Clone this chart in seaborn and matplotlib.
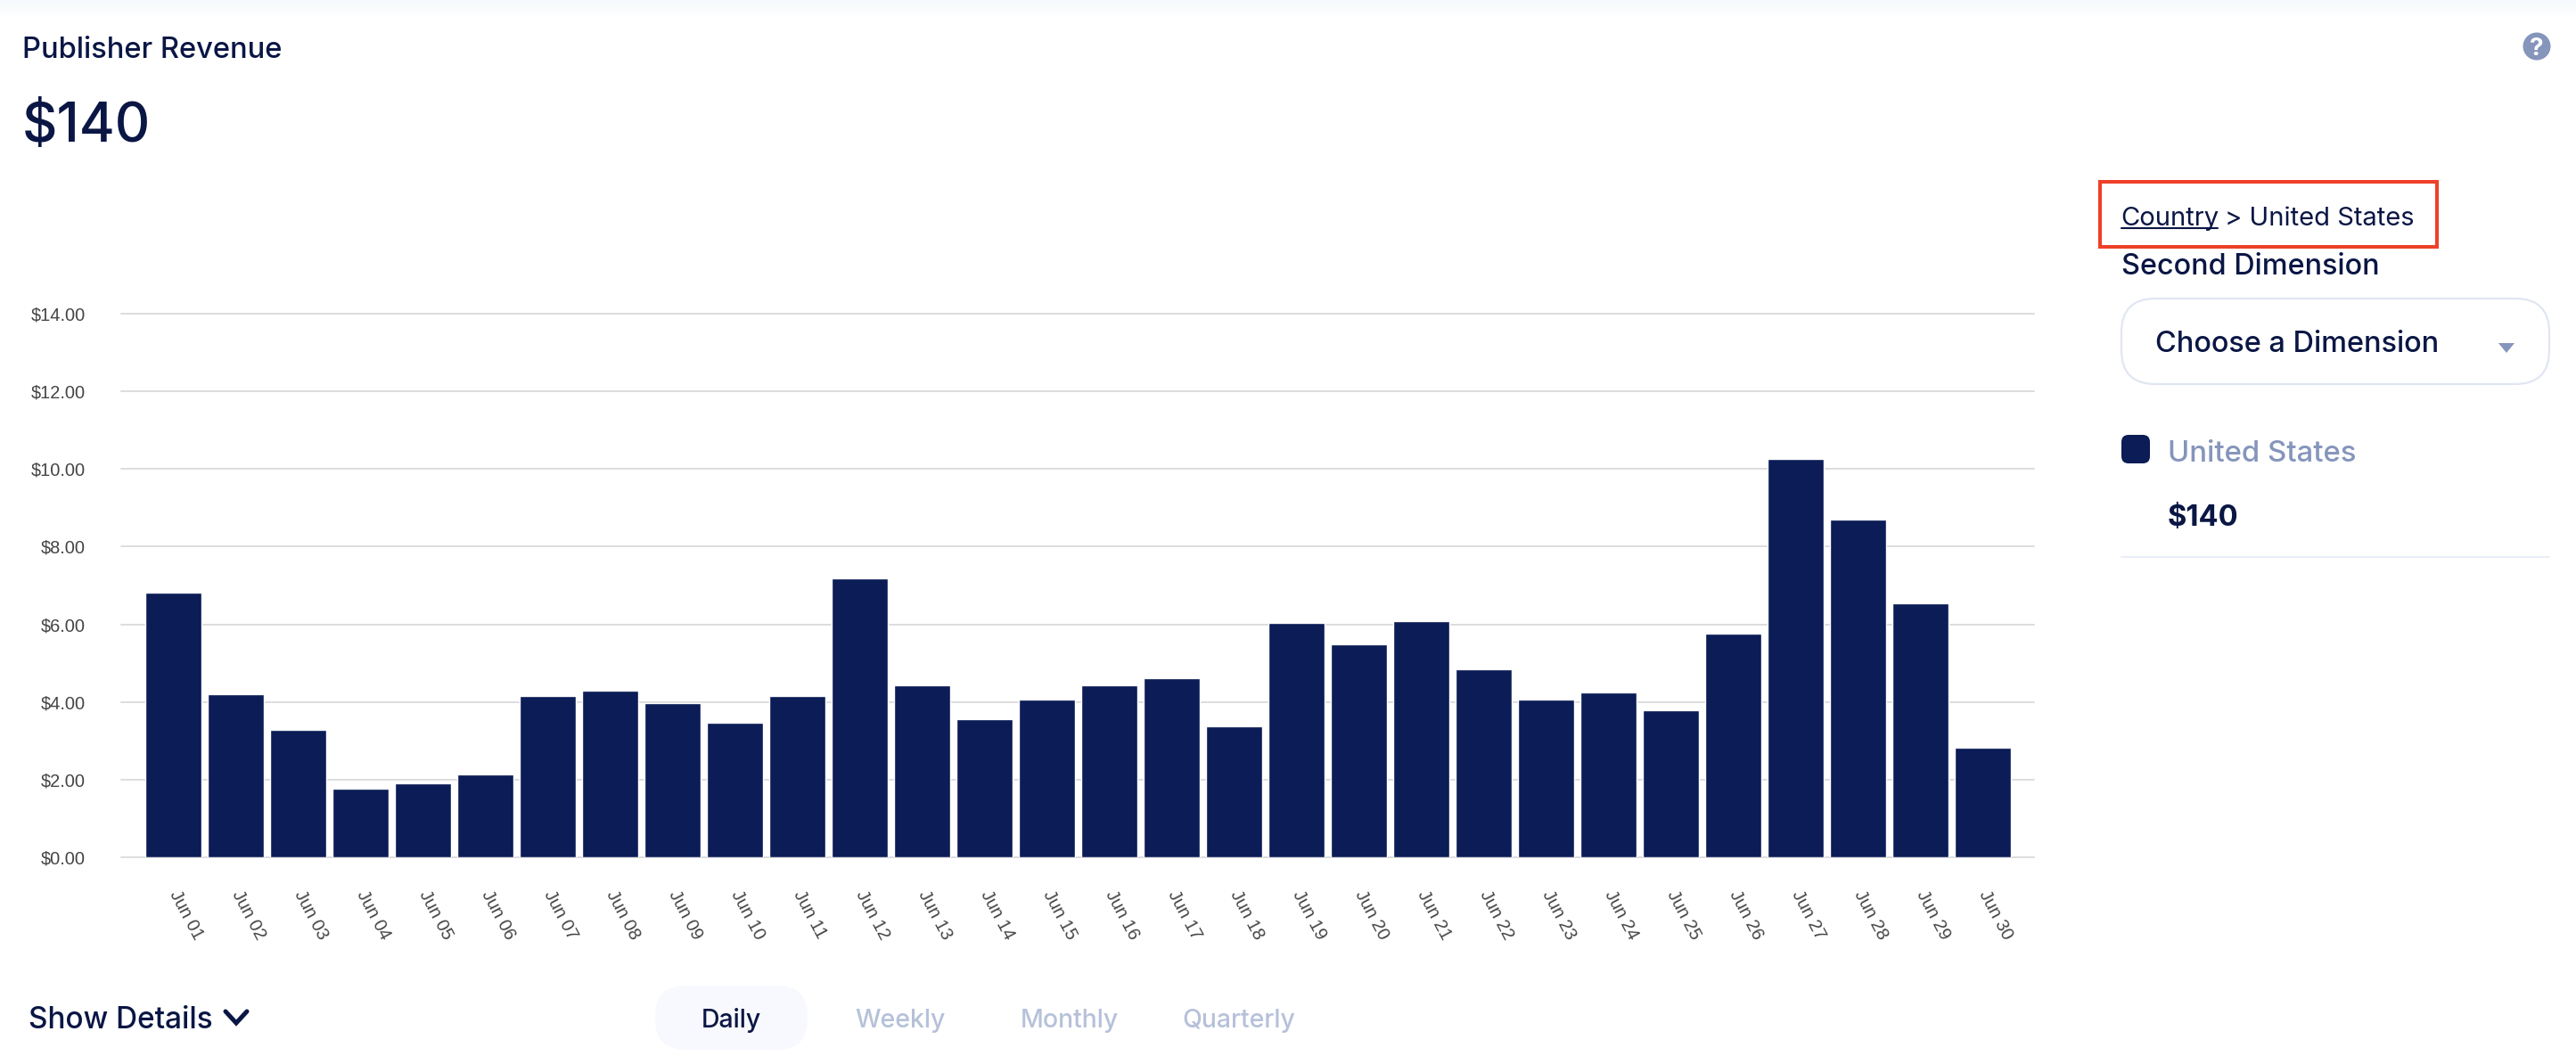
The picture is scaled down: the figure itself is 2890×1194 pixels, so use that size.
import matplotlib
matplotlib.use('Agg')
import matplotlib.pyplot as plt
from matplotlib.colors import LinearSegmentedColormap
from matplotlib.patches import FancyBboxPatch, Rectangle, Circle, Polygon
import numpy as np
import pandas as pd
import seaborn as sns

days = ['Jun %02d' % d for d in range(1, 31)]
revenue = [6.81, 4.20, 3.28, 1.76, 1.90, 2.13, 4.15, 4.29, 3.97, 3.46,
           4.15, 7.18, 4.43, 3.55, 4.06, 4.43, 4.61, 3.37, 6.03, 5.48,
           6.08, 4.84, 4.06, 4.24, 3.78, 5.76, 10.26, 8.70, 6.54, 2.82]
y_ticks = [0, 2, 4, 6, 8, 10, 12, 14]
y_labels = ['$%.2f' % v for v in y_ticks]
periods = ['Daily', 'Weekly', 'Monthly', 'Quarterly']
period_x = [820, 1010, 1200, 1390]

W, H = 2890, 1194
NAVY = '#0b1c56'
INK = '#0a1644'
MUTED = '#8595bb'
FADED = '#b6c1d9'
UI_FONT = 'Inter'

sns.set_theme(style='white')
plt.rcParams['font.family'] = ['Liberation Sans', 'DejaVu Sans']

fig = plt.figure(figsize=(W / 100, H / 100), dpi=100, facecolor='white')

# page furniture lives on a full-figure axes in pixel coordinates
ui = fig.add_axes([0, 0, 1, 1])
ui.axis('off')

ax = fig.add_axes([136 / W, 1 - 962 / H, (2282 - 136) / W, 610 / H])
ax.patch.set_alpha(0)
tab = pd.DataFrame({'day': days, 'revenue': revenue})
sns.barplot(data=tab, x='day', y='revenue', color=NAVY, saturation=1,
            width=0.895, ax=ax, zorder=3)
ax.set_xlim(-0.835, 29.82)
ax.set_ylim(0, 14)
ax.set_xlabel('')
ax.set_ylabel('')
ax.set_yticks(y_ticks)
ax.set_yticklabels(y_labels, fontsize=14.4, color='#444444')
ax.grid(axis='y', color='#dddddd', lw=1.44, clip_on=False, zorder=0)
ax.set_axisbelow(True)
ax.tick_params(axis='y', length=0, pad=28.8)
ax.tick_params(axis='x', length=0, pad=28)
ax.set_xticks(range(len(days)))
ax.set_xticklabels(days, fontsize=14.4, color='#444444', rotation=-62,
                   ha='left', va='center', rotation_mode='anchor')
sns.despine(ax=ax, left=True, bottom=True)


def label(x, y, s, size, color=INK, weight='normal', ha='left'):
    # nudge so that y is the middle of the capitals, not of the text box
    return ui.text(x, y + 0.17 * size, s, fontsize=size, color=color, fontweight=weight,
                   ha=ha, va='center', family=UI_FONT)


def rounded(x0, y0, x1, y1, r, **kw):
    ui.add_patch(FancyBboxPatch((x0 + r, y0 + r), x1 - x0 - 2 * r, y1 - y0 - 2 * r,
                                boxstyle='round,pad=%d,rounding_size=%d' % (r, r), **kw))


# pale band along the top of the page
band = LinearSegmentedColormap.from_list('band', ['#f6f9fd', '#ffffff'])
ui.imshow(np.linspace(0, 1, 20).reshape(-1, 1), cmap=band,
          extent=(0, W, 20, 0), aspect='auto', zorder=0)
ui.set_xlim(0, W)
ui.set_ylim(H, 0)

label(25, 53, 'Publisher Revenue', 23.5, weight='medium')
label(25, 136, '$140', 44, weight='medium')

# help icon
ui.add_patch(Circle((2846, 52), 15.5, color=MUTED, lw=0))
ui.text(2846, 52, '?', fontsize=20, color='white', fontweight='bold', ha='center',
        va='center_baseline', family=UI_FONT)

# breadcrumb with red highlight
ui.add_patch(Rectangle((2356, 204), 378, 73, fill=False, ec='#ee4028', lw=2.9))
label(2379, 242, 'Country', 21)
ui.plot([2380, 2488], [256, 256], color=INK, lw=1.5)
label(2496, 242, '> United States', 21)
label(2380, 296, 'Second Dimension', 23.3, weight='medium')

# dropdown
rounded(2380, 335, 2860, 431, 38, fc='white', ec='#e1e6f3', lw=1.6)
label(2418, 383, 'Choose a Dimension', 23.4, weight='medium')
ui.add_patch(Polygon([(2803, 385), (2821, 385), (2812, 396)], closed=True, color=MUTED, lw=0))

# legend entry
rounded(2380, 488, 2412, 520, 8, fc=NAVY, ec='none')
label(2432, 505, 'United States', 23.7, color=MUTED, weight='medium')
label(2432, 578, '$140', 23.5, weight='bold')
ui.plot([2380, 2860], [625, 625], color='#e9edf6', lw=1.5)

# footer controls
label(32, 1141, 'Show Details', 24, weight='medium')
ui.plot([253, 265, 277], [1135, 1148, 1135], color=INK, lw=3.6, solid_capstyle='round',
        solid_joinstyle='miter')
rounded(735, 1106, 906, 1178, 34, fc='#f8f9fe', ec='none')
for name, px in zip(periods, period_x):
    active = name == 'Daily'
    label(px, 1142, name, 20.5, color=INK if active else FADED,
          weight='medium', ha='center')

plt.savefig('out.png', dpi=100)
